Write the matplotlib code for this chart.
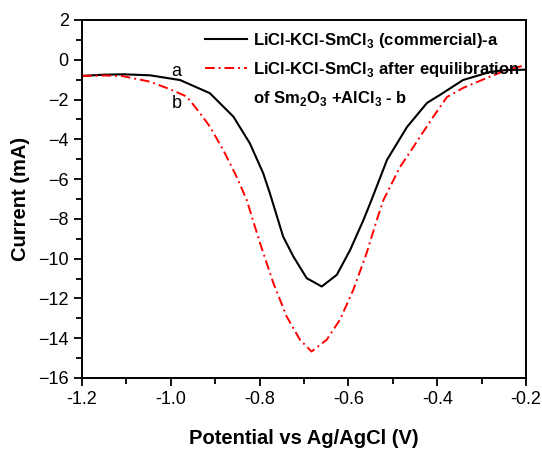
import matplotlib
matplotlib.use("Agg")
import matplotlib.pyplot as plt
from matplotlib.lines import Line2D
from matplotlib.ticker import MultipleLocator, FormatStrFormatter

plt.rcParams['font.family'] = ['Liberation Sans', 'DejaVu Sans']
plt.rcParams['mathtext.fontset'] = 'custom'
plt.rcParams['mathtext.rm'] = 'Liberation Sans:bold'
plt.rcParams['mathtext.bf'] = 'Liberation Sans:bold'

# Curve a: LiCl-KCl-SmCl3 (commercial)
pot_a = [-1.2, -1.15, -1.108, -1.047, -0.979, -0.912, -0.859, -0.822, -0.792, -0.777,
         -0.747, -0.724, -0.694, -0.660, -0.626, -0.596, -0.566, -0.548, -0.513, -0.468,
         -0.423, -0.394, -0.342, -0.281, -0.243, -0.2]
cur_a = [-0.81, -0.75, -0.73, -0.78, -1.02, -1.68, -2.86, -4.2, -5.7, -6.7,
         -8.89, -9.89, -10.98, -11.40, -10.81, -9.56, -8.05, -7.05, -5.03, -3.38,
         -2.17, -1.77, -1.02, -0.61, -0.51, -0.50]

# Curve b: after equilibration of Sm2O3 + AlCl3
pot_b = [-1.2, -1.15, -1.108, -1.085, -1.047, -1.002, -0.964, -0.934, -0.912, -0.882,
         -0.852, -0.829, -0.799, -0.769, -0.739, -0.709, -0.683, -0.649, -0.619, -0.589,
         -0.559, -0.536, -0.521, -0.484, -0.460, -0.439, -0.409, -0.378, -0.342, -0.288,
         -0.243, -0.2]
cur_b = [-0.81, -0.79, -0.82, -0.93, -1.10, -1.48, -1.85, -2.69, -3.36, -4.53,
         -5.87, -7.05, -9.22, -11.23, -12.91, -14.08, -14.67, -14.08, -13.07, -11.57,
         -9.72, -8.05, -7.05, -5.4, -4.6, -3.88, -2.87, -1.87, -1.42, -0.91,
         -0.51, -0.26]

label_a = 'LiCl-KCl-SmCl$_3$ (commercial)-a'
label_b = 'LiCl-KCl-SmCl$_3$ after equilibration'
label_b2 = 'of Sm$_2$O$_3$ +AlCl$_3$ - b'

fig = plt.figure(figsize=(5.42, 4.53), dpi=100)
ax = fig.add_axes([82/542, 1-378/453, (526-82)/542, (378-20)/453])

la, = ax.plot(pot_a, cur_a, color='black', lw=1.5, label=label_a)
lb, = ax.plot(pot_b, cur_b, color='red', lw=1.4, linestyle=(0, (5, 2, 1, 2)), label=label_b)
dummy = Line2D([], [], color='none', label=label_b2)

ax.set_xlim(-1.2, -0.2)
ax.set_ylim(-16, 2)
ax.xaxis.set_major_locator(MultipleLocator(0.2))
ax.xaxis.set_minor_locator(MultipleLocator(0.1))
ax.yaxis.set_major_locator(MultipleLocator(2))
ax.yaxis.set_minor_locator(MultipleLocator(1))
ax.xaxis.set_major_formatter(FormatStrFormatter('%.1f'))
ax.tick_params(which='both', direction='out', top=False, right=False, width=1.3, labelsize=13)
ax.tick_params(which='major', length=6)
ax.tick_params(which='minor', length=4)
for s in ax.spines.values():
    s.set_linewidth(1.4)

ax.set_xlabel('Potential vs Ag/AgCl (V)', fontsize=14.5, fontweight='bold', labelpad=15)
ax.set_ylabel('Current (mA)', fontsize=14.5, fontweight='bold', labelpad=6)

ax.text(-0.987, -0.6, 'a', fontsize=13, ha='center', va='center')
ax.text(-0.987, -2.2, 'b', fontsize=13, ha='center', va='center')

leg = ax.legend(handles=[la, lb, dummy], loc='upper right', bbox_to_anchor=(1.008, 0.998),
                frameon=False, prop={'weight': 'bold', 'size': 12},
                handlelength=2.5, handletextpad=0.35, labelspacing=0.6, borderaxespad=0.2)

fig.savefig('out.png', dpi=100)
